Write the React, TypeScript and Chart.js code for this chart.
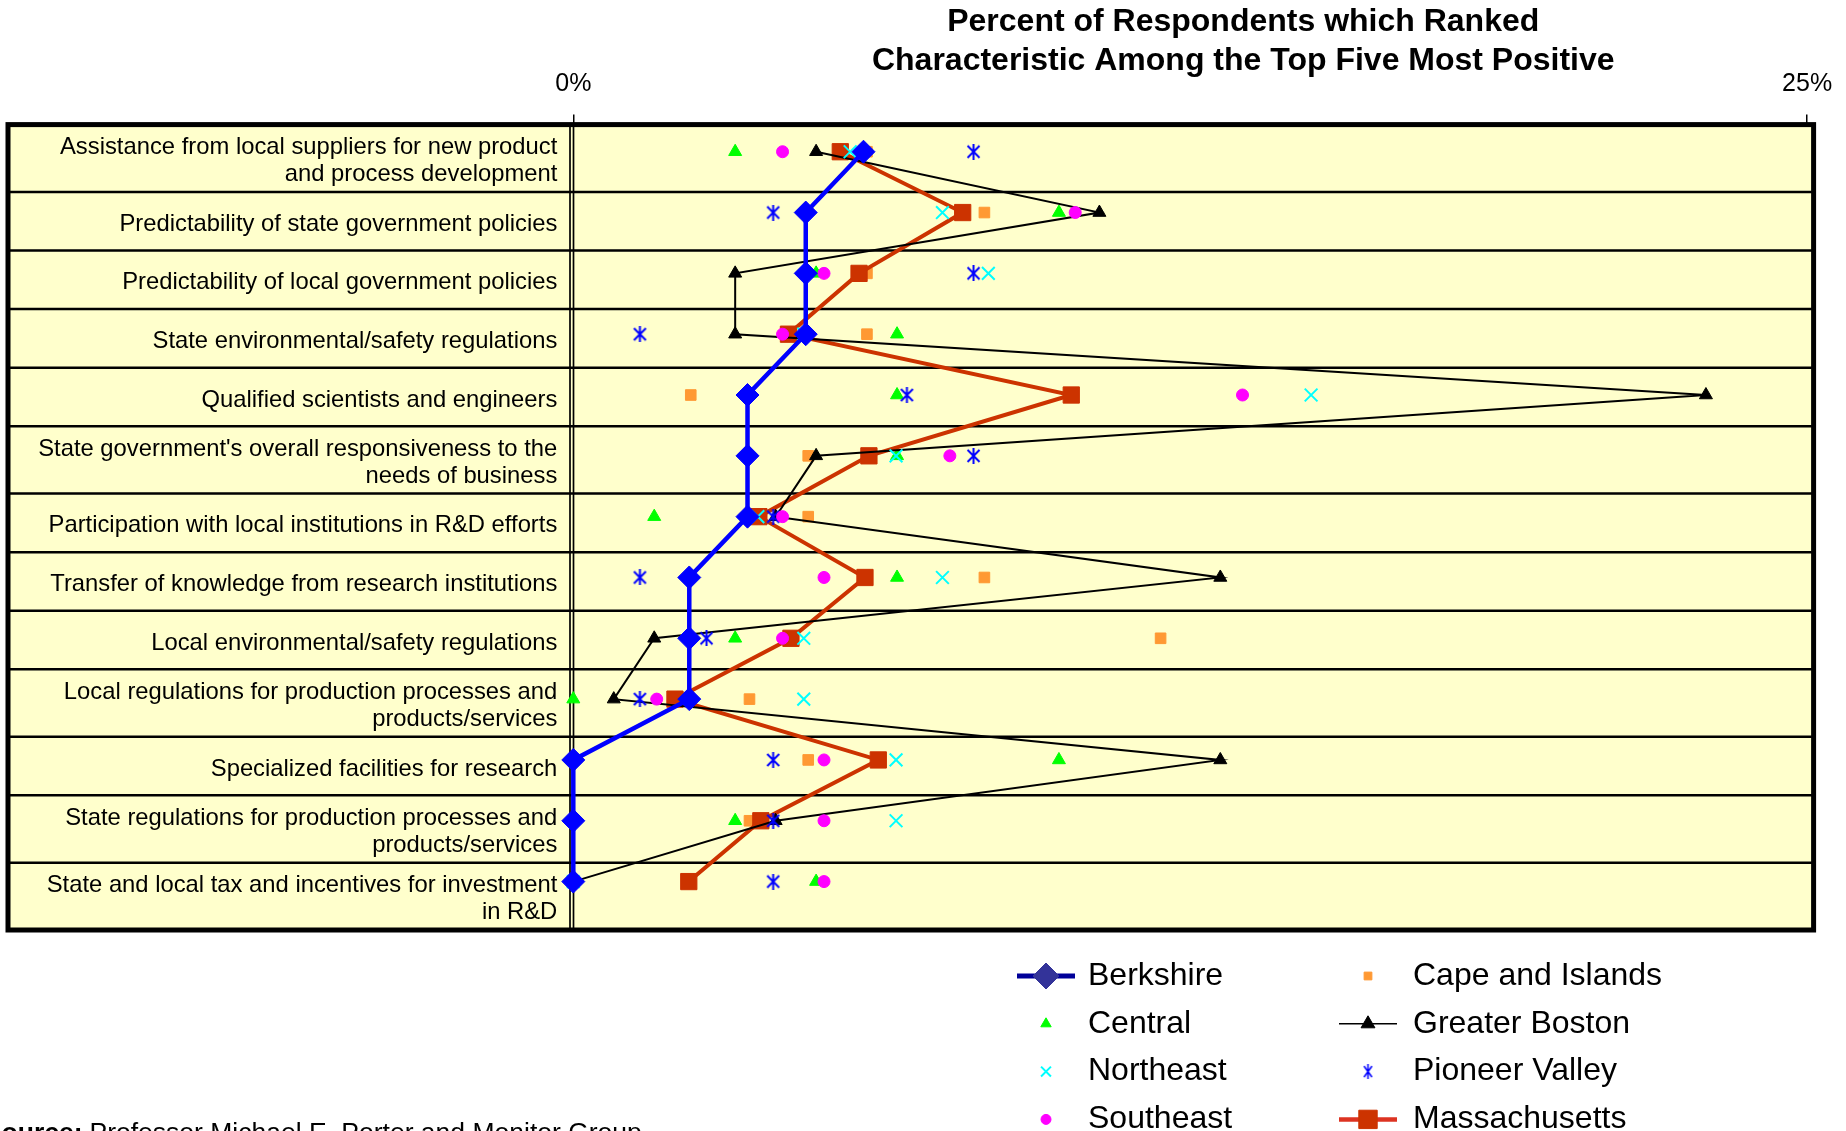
import React, { useEffect, useRef } from "react";
import { Chart, registerables } from "chart.js";
import { drawPoint } from "chart.js/helpers";

Chart.register(...registerables);

const FONT = '"Liberation Sans", Arial, Helvetica, sans-serif';

const titleLines = [
  "Percent of Respondents which Ranked",
  "Characteristic Among the Top Five Most Positive",
];
const sourceBold = "Source:";
const sourceText = "Professor Michael E. Porter and Monitor Group";

const categories: string[][] = [
  ["Assistance from local suppliers for new product", "and process development"],
  ["Predictability of state government policies"],
  ["Predictability of local government policies"],
  ["State environmental/safety regulations"],
  ["Qualified scientists and engineers"],
  ["State government's overall responsiveness to the", "needs of business"],
  ["Participation with local institutions in R&D efforts"],
  ["Transfer of knowledge from research institutions"],
  ["Local environmental/safety regulations"],
  ["Local regulations for production processes and", "products/services"],
  ["Specialized facilities for research"],
  ["State regulations for production processes and", "products/services"],
  ["State and local tax and incentives for investment", "in R&D"],
];

const xTickValues = [0, 25];

const berkshire = [5.88, 4.71, 4.71, 4.71, 3.53, 3.53, 3.53, 2.35, 2.35, 2.35, 0, 0, 0];
const capeAndIslands = [5.95, 8.33, 5.95, 5.95, 2.38, 4.76, 4.76, 8.33, 11.9, 3.57, 4.76, 3.57, 0];
const central = [3.28, 9.84, 4.92, 6.56, 6.56, 6.56, 1.64, 6.56, 3.28, 0, 9.84, 3.28, 4.92];
const greaterBoston = [4.92, 10.66, 3.28, 3.28, 22.95, 4.92, 4.1, 13.11, 1.64, 0.82, 13.11, 4.1, 0];
const northeast = [5.61, 7.48, 8.41, 4.67, 14.95, 6.54, 3.74, 7.48, 4.67, 4.67, 6.54, 6.54, 0];
const pioneerValley = [8.11, 4.05, 8.11, 1.35, 6.76, 8.11, 4.05, 1.35, 2.7, 1.35, 4.05, 4.05, 4.05];
const southeast = [4.24, 10.17, 5.08, 4.24, 13.56, 7.63, 4.24, 5.08, 4.24, 1.69, 5.08, 5.08, 5.08];
const massachusetts = [5.41, 7.89, 5.79, 4.36, 10.09, 5.99, 3.76, 5.91, 4.41, 2.06, 6.18, 3.8, 2.34];

// legend order: column-major (two columns of four)
const seriesNames = [
  "Berkshire",
  "Central",
  "Northeast",
  "Southeast",
  "Cape and Islands",
  "Greater Boston",
  "Pioneer Valley",
  "Massachusetts",
];

const seriesValues: Record<string, number[]> = {
  Berkshire: berkshire,
  "Cape and Islands": capeAndIslands,
  Central: central,
  "Greater Boston": greaterBoston,
  Northeast: northeast,
  "Pioneer Valley": pioneerValley,
  Southeast: southeast,
  Massachusetts: massachusetts,
};

type Style = {
  color: string;
  lineWidth: number;
  pointStyle: string;
  radius: number;
  borderWidth: number;
  order: number;
  legendColor?: string;
  legendLine?: string;
  legendRadius: number;
};

const styles: Record<string, Style> = {
  Berkshire: { color: "#0000FF", lineWidth: 4.5, pointStyle: "rectRot", radius: 11.5, borderWidth: 1, order: 0, legendColor: "#333399", legendLine: "#000099", legendRadius: 13 },
  Southeast: { color: "#FF00FF", lineWidth: 0, pointStyle: "circle", radius: 6, borderWidth: 1, order: 1, legendRadius: 5 },
  "Pioneer Valley": { color: "#0000FF", lineWidth: 0, pointStyle: "asterisk", radius: 7, borderWidth: 0, order: 2, legendRadius: 5 },
  Northeast: { color: "#00FFFF", lineWidth: 0, pointStyle: "crossRot", radius: 9, borderWidth: 2, order: 3, legendRadius: 7 },
  "Greater Boston": { color: "#000000", lineWidth: 2, pointStyle: "triangle", radius: 7.5, borderWidth: 1, order: 4, legendRadius: 8 },
  Massachusetts: { color: "#CC3300", lineWidth: 4, pointStyle: "rect", radius: 11.5, borderWidth: 1, order: 5, legendLine: "#DD3322", legendRadius: 13 },
  Central: { color: "#00FF00", lineWidth: 0, pointStyle: "triangle", radius: 7.5, borderWidth: 1, order: 6, legendRadius: 6 },
  "Cape and Islands": { color: "#FF9933", lineWidth: 0, pointStyle: "rect", radius: 7.5, borderWidth: 1, order: 7, legendRadius: 5.5 },
};

function makeAsterisk(color: string, w: number, h: number, lw: number) {
  const c = document.createElement("canvas");
  c.width = w;
  c.height = h;
  const ctx = c.getContext("2d")!;
  ctx.strokeStyle = color;
  ctx.lineWidth = lw;
  ctx.beginPath();
  ctx.moveTo(1.5, 2);
  ctx.lineTo(w - 1.5, h - 2);
  ctx.moveTo(w - 1.5, 2);
  ctx.lineTo(1.5, h - 2);
  ctx.moveTo(w / 2, 0);
  ctx.lineTo(w / 2, h);
  ctx.stroke();
  return c;
}

export default function App() {
  const ref = useRef<HTMLCanvasElement | null>(null);

  useEffect(() => {
    const canvas = ref.current;
    if (!canvas) return;

    const asterisk = makeAsterisk("#0000FF", 15, 16, 2);
    const asteriskSmall = makeAsterisk("#0000FF", 11, 15, 1.5);

    const datasets = seriesNames.map((name) => {
      const st = styles[name];
      return {
        label: name,
        data: seriesValues[name].map((v, i) => ({ x: v, y: i })),
        showLine: st.lineWidth > 0,
        borderColor: st.color,
        backgroundColor: st.color,
        borderWidth: st.lineWidth,
        pointStyle: st.pointStyle === "asterisk" ? asterisk : st.pointStyle,
        pointRadius: st.radius,
        pointBackgroundColor: st.color,
        pointBorderColor: st.color,
        pointBorderWidth: st.borderWidth,
        order: st.order,
        clip: false as any,
        tension: 0,
      };
    });

    const tablePlugin = {
      id: "tableBackground",
      beforeDatasetsDraw(chart: any) {
        const { ctx, chartArea: a } = chart;
        const left = 8;
        const right = a.right + 6.5;
        ctx.save();
        ctx.fillStyle = "#FFFFCC";
        ctx.fillRect(left, a.top, right - left, a.bottom - a.top);

        const weights = categories.map((c) => 1 + 0.15 * (c.length - 1));
        const total = weights.reduce((s, w) => s + w, 0);
        const bounds = [a.top];
        let y = a.top;
        weights.forEach((w) => {
          y += (w / total) * (a.bottom - a.top);
          bounds.push(y);
        });

        ctx.strokeStyle = "#000";
        ctx.lineWidth = 2.5;
        ctx.beginPath();
        for (let i = 1; i < bounds.length - 1; i++) {
          ctx.moveTo(left, bounds[i]);
          ctx.lineTo(right, bounds[i]);
        }
        ctx.stroke();

        ctx.lineWidth = 1.7;
        ctx.beginPath();
        ctx.moveTo(a.left - 3.3, a.top);
        ctx.lineTo(a.left - 3.3, a.bottom);
        ctx.moveTo(a.left + 0.2, a.top);
        ctx.lineTo(a.left + 0.2, a.bottom);
        ctx.stroke();

        ctx.font = `23.8px ${FONT}`;
        ctx.fillStyle = "#000";
        ctx.textAlign = "right";
        ctx.textBaseline = "middle";
        const lh = 27;
        categories.forEach((lines, i) => {
          const cy = (bounds[i] + bounds[i + 1]) / 2 + 3;
          lines.forEach((t, j) => {
            ctx.fillText(t, a.left - 16, cy + (j - (lines.length - 1) / 2) * lh);
          });
        });

        ctx.lineWidth = 5;
        ctx.strokeRect(left, a.top, right - left, a.bottom - a.top);
        ctx.restore();
      },
    };

    const decorPlugin = {
      id: "decor",
      afterDraw(chart: any) {
        const { ctx, chartArea: a } = chart;
        ctx.save();
        // title
        ctx.fillStyle = "#000";
        ctx.font = `bold 32px ${FONT}`;
        ctx.textAlign = "center";
        ctx.textBaseline = "middle";
        const tx = a.left + (a.right - a.left) * 0.543;
        titleLines.forEach((t, i) => ctx.fillText(t, tx, 22.5 + i * 39));

        // legend
        const colSym = [1046, 1368];
        const colText = [1088, 1413];
        ctx.font = `32px ${FONT}`;
        ctx.textAlign = "left";
        seriesNames.forEach((name, k) => {
          const col = Math.floor(k / 4);
          const row = k % 4;
          const yy = 976 + row * 47.8;
          const sx = colSym[col];
          const st = styles[name];
          if (st.lineWidth > 0) {
            ctx.strokeStyle = st.legendLine || st.color;
            ctx.lineWidth = st.lineWidth + (st.lineWidth > 3 ? 0.5 : -0.5);
            ctx.beginPath();
            ctx.moveTo(sx - 29, yy);
            ctx.lineTo(sx + 29, yy);
            ctx.stroke();
          }
          if (st.pointStyle === "asterisk") {
            ctx.drawImage(asteriskSmall, sx - asteriskSmall.width / 2, yy - asteriskSmall.height / 2);
          } else {
            const c = st.legendColor || st.color;
            ctx.fillStyle = c;
            ctx.strokeStyle = c;
            ctx.lineWidth = st.borderWidth || 1;
            drawPoint(ctx, { pointStyle: st.pointStyle as any, radius: st.legendRadius, rotation: 0, borderWidth: st.borderWidth }, sx, yy);
          }
          ctx.fillStyle = "#000";
          ctx.fillText(name, colText[col], yy);
        });

        // source
        ctx.textBaseline = "alphabetic";
        ctx.font = `26.5px ${FONT}`;
        const px = 89.5;
        ctx.fillText(sourceText, px, 1141);
        ctx.font = `bold 26.5px ${FONT}`;
        ctx.textAlign = "right";
        ctx.fillText(sourceBold, px - 7, 1141);
        ctx.restore();
      },
    };

    const chart = new Chart(canvas, {
      type: "scatter",
      data: { datasets: datasets as any },
      options: {
        responsive: false,
        animation: false,
        events: [],
        layout: { padding: { left: 573.3, right: 38.9, top: 0, bottom: 201 } },
        plugins: { legend: { display: false }, tooltip: { enabled: false }, title: { display: false } },
        scales: {
          x: {
            type: "linear",
            position: "top",
            min: 0,
            max: 25,
            afterBuildTicks: (s: any) => {
              s.ticks = xTickValues.map((v) => ({ value: v }));
            },
            afterFit: (s: any) => {
              s.height = 124.6;
              s.paddingLeft = 0;
              s.paddingRight = 0;
            },
            ticks: {
              callback: (v: any) => `${v}%`,
              font: { family: FONT, size: 25 },
              color: "#000",
              padding: 15,
              maxRotation: 0,
              autoSkip: false,
            },
            grid: { drawOnChartArea: false, drawTicks: true, tickLength: 10, color: "#000", lineWidth: 1.5 },
            border: { display: false },
          },
          y: {
            type: "linear",
            reverse: true,
            min: -0.446,
            max: 12.796,
            display: false,
          },
        },
      },
      plugins: [tablePlugin, decorPlugin],
    });

    return () => chart.destroy();
  }, []);

  return (
    <div style={{ position: "fixed", left: 0, top: 0, width: 1846, height: 1131, background: "#fff", overflow: "hidden" }}>
      <canvas ref={ref} width={1846} height={1131} style={{ display: "block" }} />
    </div>
  );
}
